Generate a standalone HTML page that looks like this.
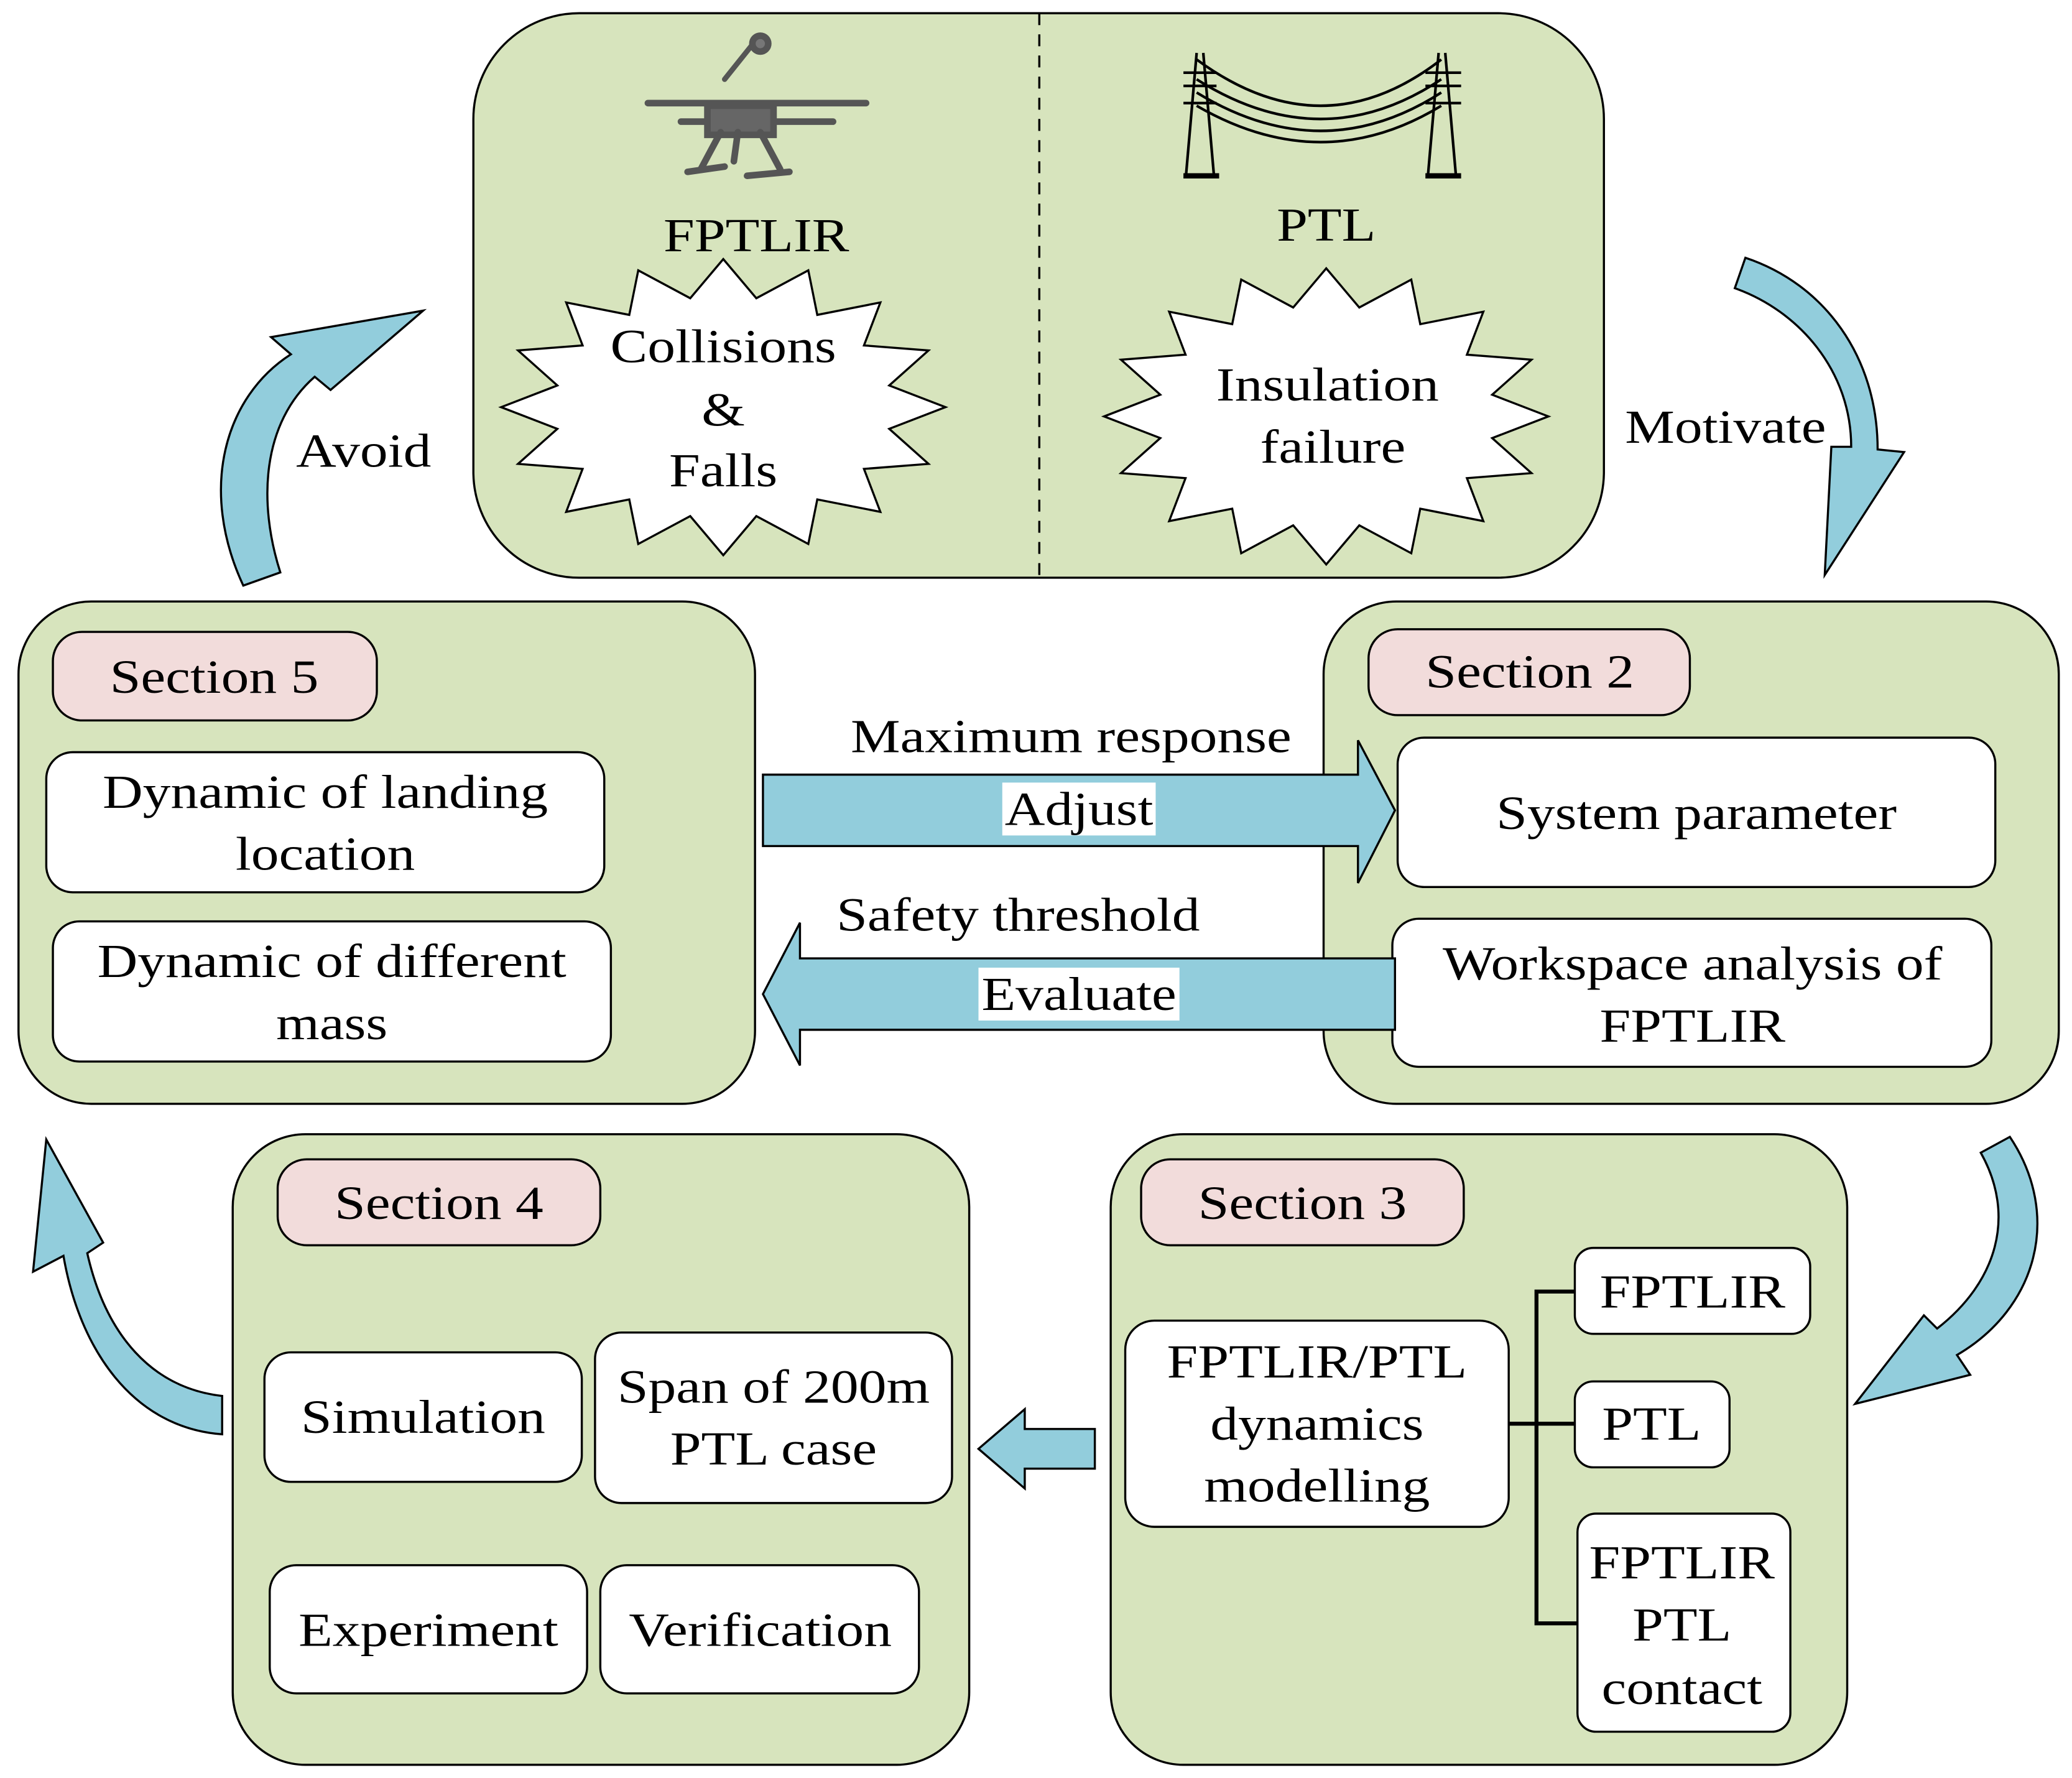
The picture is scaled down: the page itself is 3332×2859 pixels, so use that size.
<!DOCTYPE html>
<html><head><meta charset="utf-8"><style>
html,body{margin:0;padding:0;background:#fff;width:3332px;height:2859px;overflow:hidden}
text{font-family:"Liberation Serif",serif;fill:#000}
</style></head><body>
<svg id="s" xmlns="http://www.w3.org/2000/svg" width="3332" height="2859" viewBox="0 0 1567 1345" preserveAspectRatio="none">
<g stroke="#000" stroke-width="1.6">
<rect x="358" y="10" width="855" height="427" rx="80" fill="#d7e4bd"/>
<line x1="786" y1="10" x2="786" y2="437" stroke-dasharray="9,7"/>
<rect x="14" y="455" width="557" height="380" rx="55" fill="#d7e4bd"/>
<rect x="1001" y="455" width="556" height="380" rx="55" fill="#d7e4bd"/>
<rect x="176" y="858" width="557" height="477" rx="55" fill="#d7e4bd"/>
<rect x="840" y="858" width="557" height="477" rx="55" fill="#d7e4bd"/>
<rect x="40" y="478" width="245" height="67" rx="22" fill="#f2dcdb"/>
<rect x="1035" y="476" width="243" height="65" rx="22" fill="#f2dcdb"/>
<rect x="210" y="877" width="244" height="65" rx="22" fill="#f2dcdb"/>
<rect x="863" y="877" width="244" height="65" rx="22" fill="#f2dcdb"/>
<g fill="#fff">
<rect x="35" y="569" width="422" height="106" rx="20"/>
<rect x="40" y="697" width="422" height="106" rx="20"/>
<rect x="1057" y="558" width="452" height="113" rx="20"/>
<rect x="1053" y="695" width="453" height="112" rx="20"/>
<rect x="200" y="1023" width="240" height="98" rx="20"/>
<rect x="450" y="1008" width="270" height="129" rx="20"/>
<rect x="204" y="1184" width="240" height="97" rx="20"/>
<rect x="454" y="1184" width="241" height="97" rx="20"/>
<rect x="851" y="999" width="290" height="156" rx="22"/>
<rect x="1191" y="944" width="178" height="65" rx="14"/>
<rect x="1191" y="1045" width="117" height="65" rx="14"/>
<rect x="1193" y="1145" width="161" height="165" rx="14"/>
</g>
<polyline points="1191,977 1162,977 1162,1228 1193,1228" fill="none" stroke-width="3"/>
<line x1="1141" y1="1077" x2="1191" y2="1077" stroke-width="3"/>
<g fill="#92cddc">
<polygon points="577,586 1027,586 1027,560 1055,613 1027,668 1027,640 577,640"/>
<polygon points="1055,725 605,725 605,698 577,752 605,806 605,779 1055,779"/>
<polygon points="828,1081 775,1081 775,1066 740,1096 775,1126 775,1111 828,1111"/>
<path d="M184,443 C150,370 170,300 220,268 L205,255 L320,235 L250,295 L238,285 C198,320 195,380 212,433 Z"/>
<path d="M1320,195 C1380,215 1420,270 1420,340 L1440,342 L1380,435 L1385,338 L1400,338 C1400,280 1360,235 1312,218 Z"/>
<path d="M1520,860 C1560,920 1540,990 1480,1025 L1490,1040 L1403,1062 L1455,995 L1465,1005 C1510,970 1525,920 1498,872 Z"/>
<path d="M168,1085 C100,1080 60,1020 48,950 L25,962 L35,862 L78,940 L66,948 C80,1010 115,1050 168,1056 Z"/>
</g>
<polygon id="b1" fill="#fff"/>
<polygon id="b2" fill="#fff"/>
</g>
<g stroke="#555" stroke-width="5" fill="none" stroke-linecap="round">
<line x1="490" y1="78" x2="655" y2="78"/><line x1="515" y1="92" x2="630" y2="92"/>
<line x1="548" y1="60" x2="572" y2="30" stroke-width="4"/>
<rect x="535" y="80" width="50" height="22" fill="#666"/>
<line x1="545" y1="100" x2="530" y2="128"/><line x1="575" y1="100" x2="590" y2="128"/>
<line x1="558" y1="100" x2="555" y2="122"/><line x1="520" y1="130" x2="548" y2="126"/><line x1="565" y1="133" x2="597" y2="130"/>
<circle cx="575" cy="33" r="6" fill="#777"/>
</g>
<g stroke="#000" stroke-width="2" fill="none">
<path d="M905,40 L897,132 M910,40 L918,132 M1088,40 L1080,132 M1093,40 L1101,132"/>
<path d="M895,55 L920,55 M895,65 L920,65 M895,78 L920,78 M1078,55 L1105,55 M1078,65 L1105,65 M1078,78 L1105,78"/>
<path d="M905,45 Q1000,115 1090,45 M905,60 Q1000,120 1090,60 M905,70 Q1000,128 1090,70 M905,80 Q1000,135 1090,80"/>
<path d="M895,133 L922,133 M1078,133 L1105,133" stroke-width="4"/>
</g>
<g font-size="36" text-anchor="middle" class="t">
<text x="572" y="190">FPTLIR</text>
<text x="1003" y="182">PTL</text>
<text x="547" y="274">Collisions</text><text x="547" y="322">&amp;</text><text x="547" y="368">Falls</text>
<text x="1004" y="303">Insulation</text><text x="1008" y="350">failure</text>
<text x="275" y="353">Avoid</text>
<text x="1305" y="335">Motivate</text>
<text x="162" y="524">Section 5</text>
<text x="1157" y="520">Section 2</text>
<text x="332" y="922">Section 4</text>
<text x="985" y="922">Section 3</text>
<text x="246" y="611">Dynamic of landing</text><text x="246" y="658">location</text>
<text x="251" y="739">Dynamic of different</text><text x="251" y="786">mass</text>
<text x="1283" y="627">System parameter</text>
<text x="1280" y="741">Workspace analysis of</text><text x="1280" y="788">FPTLIR</text>
<text x="320" y="1084">Simulation</text>
<text x="585" y="1061">Span of 200m</text><text x="585" y="1108">PTL case</text>
<text x="324" y="1245">Experiment</text>
<text x="575" y="1245">Verification</text>
<text x="996" y="1042">FPTLIR/PTL</text><text x="996" y="1089">dynamics</text><text x="996" y="1136">modelling</text>
<text x="1280" y="989">FPTLIR</text>
<text x="1249" y="1089">PTL</text>
<text x="1272" y="1194">FPTLIR</text><text x="1272" y="1241">PTL</text><text x="1272" y="1289">contact</text>
<text x="810" y="569">Maximum response</text>
<text x="770" y="704">Safety threshold</text>
</g>
<rect x="758" y="592" width="116" height="40" fill="#fff"/>
<rect x="740" y="732" width="152" height="40" fill="#fff"/>
<g font-size="36" text-anchor="middle" class="t">
<text x="816" y="624">Adjust</text>
<text x="816" y="764">Evaluate</text>
</g>
</svg>
<script>
function star(id,cx,cy,rx,ry,ix,iy,n){var p=[];for(var i=0;i<2*n;i++){var a=Math.PI*i/n-Math.PI/2;var o=i%2==0;p.push((cx+(o?rx:ix)*Math.cos(a)).toFixed(1)+","+(cy+(o?ry:iy)*Math.sin(a)).toFixed(1));}document.getElementById(id).setAttribute("points",p.join(" "));}
star("b1",547,308,168,112,128,84,16);
star("b2",1003,315,168,112,128,84,16);
var ts=document.querySelectorAll(".t text");
for(var i=0;i<ts.length;i++){var x=ts[i].getAttribute("x");ts[i].setAttribute("transform","translate("+x+",0) scale(1.17,1) translate("+(-x)+",0)");}
</script>
</body></html>
